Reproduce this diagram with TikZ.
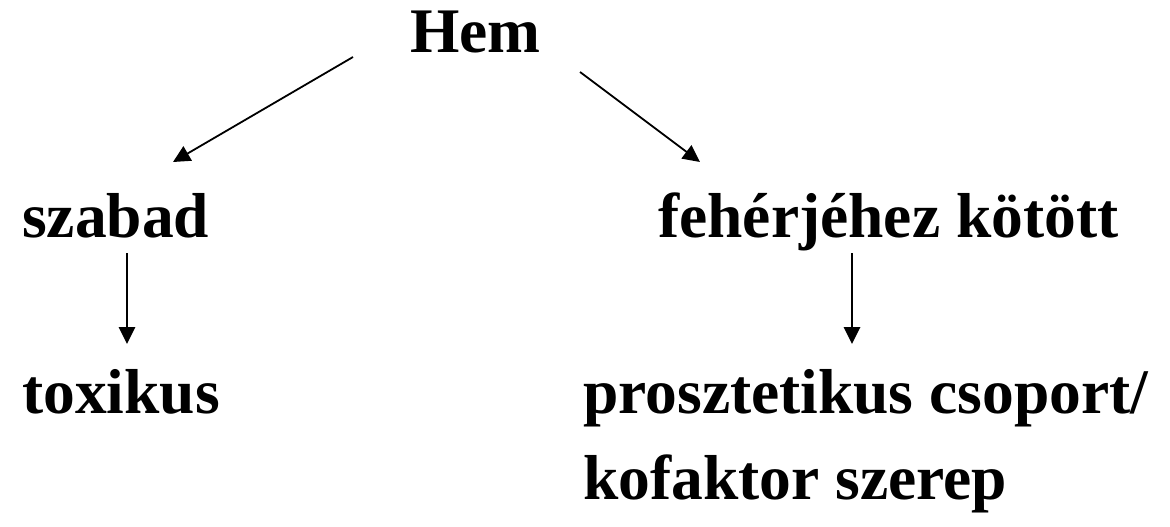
\documentclass[tikz,border=0pt]{standalone}
\usepackage{fontspec}
\setmainfont{Liberation Serif}
\usetikzlibrary{arrows.meta}
\tikzset{
  label/.style={inner sep=0pt, anchor=base west, font=\fontsize{63.5}{86}\selectfont\bfseries},
  link/.style={line width=1.8pt, -{Triangle[length=17pt,width=16.5pt]}}
}
\begin{document}
\begin{tikzpicture}[x=1pt,y=-1pt]
  \useasboundingbox (0,0) rectangle (1170,527);
  % labels
  \node[label] (hem) at (410,53) {Hem};
  \node[label] (szabad) at (22,237) {szabad};
  \node[label] (kotott) at (658,237) {fehérjéhez kötött};
  \node[label] (toxikus) at (22,413) {toxikus};
  \node[label] (szerep) at (583,413)
    {\begin{tabular}[t]{@{}l@{}}prosztetikus csoport/\\kofaktor szerep\end{tabular}};
  % arrow end points
  \coordinate (hemL) at (353,57);
  \coordinate (szabadT) at (173,162);
  \coordinate (hemR) at (580,72);
  \coordinate (kotottT) at (700,162);
  \coordinate (szabadB) at (127,253);
  \coordinate (toxikusT) at (127,344);
  \coordinate (kotottB) at (852,253);
  \coordinate (szerepT) at (852,344);
  % connectors
  \draw[link] (hemL) -- (szabadT);
  \draw[link] (hemR) -- (kotottT);
  \draw[link] (szabadB) -- (toxikusT);
  \draw[link] (kotottB) -- (szerepT);
\end{tikzpicture}
\end{document}
